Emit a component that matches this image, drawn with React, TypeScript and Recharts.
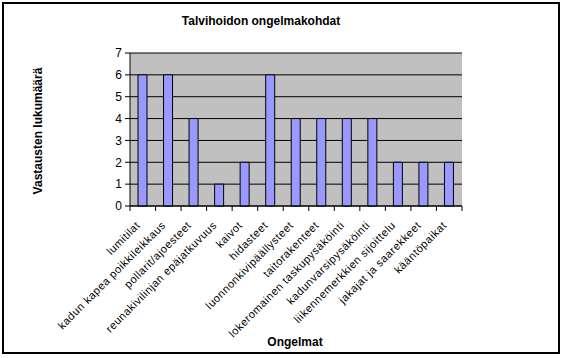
import { Bar, BarChart, CartesianGrid, XAxis, YAxis } from 'recharts'

const categories = [
  'lumitilat',
  'kadun kapea poikkileikkaus',
  'pollarit/ajoesteet',
  'reunakivilinjan epäjatkuvuus',
  'kaivot',
  'hidasteet',
  'luonnonkivipäällysteet',
  'taitorakenteet',
  'lokeromainen taskupysäköinti',
  'kadunvarsipysäköinti',
  'liikennemerkkien sijoittelu',
  'jakajat ja saarekkeet',
  'kääntöpaikat',
]
const answers = [6, 6, 4, 1, 2, 6, 4, 4, 4, 4, 2, 2, 2]
const yTicks = [0, 1, 2, 3, 4, 5, 6, 7]

const data = categories.map((name, i) => ({ name, count: answers[i] }))

const FONT = '"Liberation Sans", Arial, sans-serif'
const W = 566
const H = 358
const PLOT_LEFT = 130
const PLOT_RIGHT = 462
const PLOT_TOP = 53
const PLOT_BOTTOM = 206
const BAND = (PLOT_RIGHT - PLOT_LEFT) / categories.length

function CategoryTick(props: any) {
  const { x, y, payload, index } = props
  const half = BAND / 2
  return (
    <g>
      {index === 0 && <line x1={x - half} x2={x - half} y1={y} y2={y + 5} stroke="#000" />}
      <line x1={x + half} x2={x + half} y1={y} y2={y + 5} stroke="#000" />
      <text
        transform={`translate(${x - 2},${y + 20}) rotate(-45)`}
        textAnchor="end"
        fontSize={11}
        fontFamily={FONT}
        letterSpacing={0.5}
        fill="#000"
      >
        {payload.value}
      </text>
    </g>
  )
}

export default function App() {
  return (
    <div style={{ position: 'absolute', left: 0, top: 0, width: W, height: H, background: '#fff', fontFamily: FONT }}>
      <div
        style={{
          position: 'absolute',
          left: 2,
          top: 2,
          width: 558,
          height: 352,
          border: '2px solid #000',
          boxSizing: 'border-box',
        }}
      />
      <BarChart
        width={W}
        height={H}
        data={data}
        margin={{ top: PLOT_TOP, right: W - PLOT_RIGHT, left: 0, bottom: 0 }}
        barCategoryGap={0}
      >
        <CartesianGrid stroke="#000" vertical={false} fill="#C0C0C0" fillOpacity={1} />
        <XAxis
          dataKey="name"
          interval={0}
          height={H - PLOT_BOTTOM}
          tickSize={0}
          tickMargin={0}
          tickLine={false}
          axisLine={{ stroke: '#000' }}
          tick={<CategoryTick />}
        />
        <YAxis
          width={PLOT_LEFT}
          domain={[0, 7]}
          ticks={yTicks}
          interval={0}
          tickSize={5}
          tickMargin={3}
          axisLine={{ stroke: '#000' }}
          tickLine={{ stroke: '#000' }}
          tick={{ fill: '#000', fontSize: 12, fontFamily: FONT }}
        />
        <Bar dataKey="count" fill="#9999FF" stroke="#000" strokeWidth={1} barSize={9} isAnimationActive={false} />
      </BarChart>
      <div
        style={{
          position: 'absolute',
          left: 161,
          top: 14,
          width: 200,
          textAlign: 'center',
          fontSize: 12,
          fontWeight: 'bold',
        }}
      >
        Talvihoidon ongelmakohdat
      </div>
      <div
        style={{
          position: 'absolute',
          left: 38 - 80,
          top: 132 - 8,
          width: 160,
          textAlign: 'center',
          fontSize: 12,
          fontWeight: 'bold',
          transform: 'rotate(-90deg)',
        }}
      >
        Vastausten lukumäärä
      </div>
      <div
        style={{
          position: 'absolute',
          left: 245,
          top: 335,
          width: 100,
          textAlign: 'center',
          fontSize: 12,
          fontWeight: 'bold',
        }}
      >
        Ongelmat
      </div>
    </div>
  )
}
